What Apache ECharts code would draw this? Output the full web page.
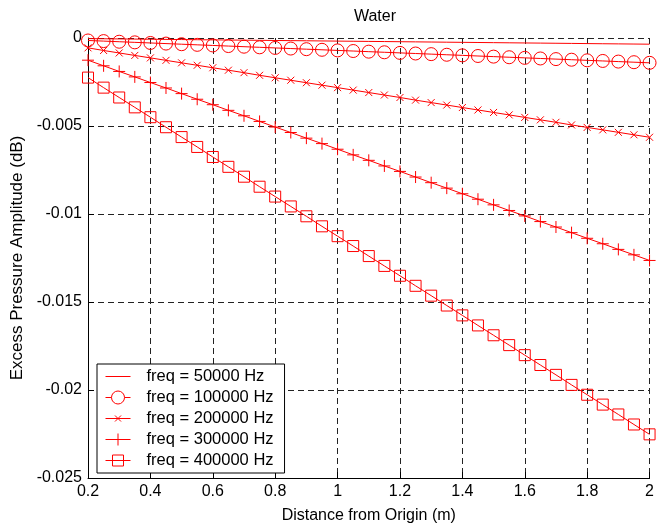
<!DOCTYPE html>
<html>
<head>
<meta charset="utf-8">
<script src="https://cdn.jsdelivr.net/npm/echarts@6/dist/echarts.min.js"></script>
<style>
  html, body { margin: 0; padding: 0; background: #fff; }
  #chart { width: 657px; height: 529px; }
</style>
</head>
<body>
<div id="chart"></div>
<script>
const distances = [0.2, 0.25, 0.3, 0.35, 0.4, 0.45, 0.5, 0.55, 0.6, 0.65, 0.7, 0.75, 0.8, 0.85, 0.9, 0.95,
  1.0, 1.05, 1.1, 1.15, 1.2, 1.25, 1.3, 1.35, 1.4, 1.45, 1.5, 1.55, 1.6, 1.65, 1.7, 1.75, 1.8, 1.85, 1.9, 1.95, 2.0]

const freqNames = ['freq = 50000 Hz', 'freq = 100000 Hz', 'freq = 200000 Hz', 'freq = 300000 Hz', 'freq = 400000 Hz']

const f50k = [-0.000035, -0.000044, -0.000053, -0.000062, -0.00007, -0.000079, -0.000088, -0.000097, -0.000106,
  -0.000114, -0.000123, -0.000132, -0.000141, -0.00015, -0.000158, -0.000167, -0.000176, -0.000185, -0.000194,
  -0.000202, -0.000211, -0.00022, -0.000229, -0.000238, -0.000246, -0.000255, -0.000264, -0.000273, -0.000282,
  -0.00029, -0.000299, -0.000308, -0.000317, -0.000326, -0.000334, -0.000343, -0.000352]

const f100k = [-0.000141, -0.000176, -0.000212, -0.000247, -0.000282, -0.000317, -0.000353, -0.000388, -0.000423,
  -0.000458, -0.000494, -0.000529, -0.000564, -0.000599, -0.000635, -0.00067, -0.000705, -0.00074, -0.000776,
  -0.000811, -0.000846, -0.000881, -0.000917, -0.000952, -0.000987, -0.001022, -0.001058, -0.001093, -0.001128,
  -0.001163, -0.001199, -0.001234, -0.001269, -0.001304, -0.00134, -0.001375, -0.00141]

const f200k = [-0.00056, -0.00071, -0.00085, -0.00099, -0.00113, -0.00127, -0.00141, -0.00155, -0.00169,
  -0.00183, -0.00197, -0.00212, -0.00226, -0.0024, -0.00254, -0.00268, -0.00282, -0.00296, -0.0031,
  -0.00324, -0.00338, -0.00353, -0.00367, -0.00381, -0.00395, -0.00409, -0.00423, -0.00437, -0.00451,
  -0.00465, -0.00479, -0.00494, -0.00508, -0.00522, -0.00536, -0.0055, -0.00564]

const f300k = [-0.00126, -0.00158, -0.0019, -0.00221, -0.00253, -0.00284, -0.00316, -0.00348, -0.00379,
  -0.00411, -0.00442, -0.00474, -0.00506, -0.00537, -0.00569, -0.006, -0.00632, -0.00664, -0.00695,
  -0.00727, -0.00758, -0.0079, -0.00822, -0.00853, -0.00885, -0.00916, -0.00948, -0.0098, -0.01011,
  -0.01043, -0.01074, -0.01106, -0.01138, -0.01169, -0.01201, -0.01232, -0.01264]

const f400k = [-0.00225, -0.00282, -0.00338, -0.00394, -0.0045, -0.00507, -0.00563, -0.00619, -0.00676,
  -0.00732, -0.00788, -0.00845, -0.00901, -0.00957, -0.01013, -0.0107, -0.01126, -0.01182, -0.01239,
  -0.01295, -0.01351, -0.01408, -0.01464, -0.0152, -0.01576, -0.01633, -0.01689, -0.01745, -0.01802,
  -0.01858, -0.01914, -0.01971, -0.02027, -0.02083, -0.02139, -0.02196, -0.02252]

const FONT = 'Liberation Sans, Arial, sans-serif'
const RED = '#ff0000'

const pairs = vals => vals.map((v, i) => [distances[i], v])

// marker per series, matlab style: none, o, x, +, square
const markers = [
  { symbol: 'none', size: 0 },
  { symbol: 'circle', size: 13 },
  { symbol: 'path://M0,0L10,10M10,0L0,10', size: 7 },
  { symbol: 'path://M5,0L5,10M0,5L10,5', size: 12 },
  { symbol: 'rect', size: 11 }
]

// legend icons drawn in a 25x14 box: line + marker
const legendIcons = [
  'path://M0,0M25,14M0,7L25,7',
  'path://M0,0M25,14M0,7L6,7M19,7L25,7M6,7A6.5,6.5,0,1,1,19,7A6.5,6.5,0,1,1,6,7',
  'path://M0,0M25,14M0,7L25,7M9.5,4L15.5,10M15.5,4L9.5,10',
  'path://M0,0M25,14M0,7L25,7M12.5,1L12.5,13',
  'path://M0,0M25,14M0,7L25,7M7,1.5L18,1.5L18,12.5L7,12.5Z'
]

const seriesData = [f50k, f100k, f200k, f300k, f400k]

const series = seriesData.map((vals, i) => ({
  name: freqNames[i],
  type: 'line',
  data: pairs(vals),
  symbol: markers[i].symbol,
  symbolSize: markers[i].size,
  showSymbol: markers[i].symbol !== 'none',
  showAllSymbol: true,
  lineStyle: { color: RED, width: 1 },
  itemStyle: { color: 'rgba(0,0,0,0)', borderColor: RED, borderWidth: 1 },
  emphasis: { disabled: true }
}))

const myChart = echarts.init(document.getElementById('chart'), null, { renderer: 'canvas' })

const option = {
  animation: false,
  backgroundColor: '#fff',
  title: {
    text: 'Water',
    left: 370,
    textAlign: 'center',
    top: 4,
    textStyle: { fontFamily: FONT, fontSize: 16, fontWeight: 'normal', color: '#000' }
  },
  legend: {
    data: freqNames.map((name, i) => ({ name, icon: legendIcons[i] })),
    orient: 'vertical',
    left: 97,
    top: 364,
    itemWidth: 25,
    itemHeight: 14,
    itemGap: 4,
    padding: [4, 11, 4, 8],
    backgroundColor: '#fff',
    borderColor: '#000',
    borderWidth: 1,
    borderRadius: 0,
    selectedMode: false,
    itemStyle: { color: 'rgba(0,0,0,0)', borderColor: RED, borderWidth: 1 },
    textStyle: { fontFamily: FONT, fontSize: 16.5, color: '#000', lineHeight: 14, padding: [0, 0, 0, 11] }
  },
  grid: { left: 88, right: 5, top: 38, bottom: 48 },
  xAxis: {
    type: 'value',
    min: 0.2,
    max: 2,
    interval: 0.2,
    name: 'Distance from Origin (m)',
    nameLocation: 'middle',
    nameGap: 30,
    nameTextStyle: { fontFamily: FONT, fontSize: 16, color: '#000' },
    axisLine: { show: true, onZero: false, lineStyle: { color: '#000', width: 1 } },
    axisTick: { show: true, inside: true, length: 6, lineStyle: { color: '#000' } },
    axisLabel: { fontFamily: FONT, fontSize: 16, color: '#000', margin: 6 },
    splitLine: { show: true, lineStyle: { color: '#222', type: [6, 4], width: 1 } }
  },
  yAxis: {
    type: 'value',
    min: -0.025,
    max: 0,
    interval: 0.005,
    name: 'Excess Pressure Amplitude (dB)',
    nameLocation: 'middle',
    nameGap: 50,
    nameTextStyle: { fontFamily: FONT, fontSize: 17, color: '#000' },
    axisLine: { show: true, onZero: false, lineStyle: { color: '#000', width: 1 } },
    axisTick: { show: true, inside: true, length: 6, lineStyle: { color: '#000' } },
    axisLabel: { fontFamily: FONT, fontSize: 16, color: '#000', margin: 6 },
    splitLine: { show: true, lineStyle: { color: '#222', type: [6, 4], width: 1 } }
  },
  series
}

myChart.setOption(option)
window.addEventListener('resize', () => myChart.resize())
</script>
</body>
</html>
